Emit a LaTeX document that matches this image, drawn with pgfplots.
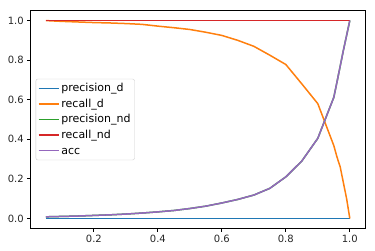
\documentclass[border=0pt]{standalone}
\usepackage{pgfplots}
\pgfplotsset{compat=1.18}
\usepackage{pgfplotstable}
\usepackage{fontspec}
\setmainfont{DejaVu Sans}
\definecolor{c0}{HTML}{1F77B4}
\definecolor{c1}{HTML}{FF7F0E}
\definecolor{c2}{HTML}{2CA02C}
\definecolor{c3}{HTML}{D62728}
\definecolor{c4}{HTML}{9467BD}
\pgfplotstableread{
x pd rd pnd rnd acc
0.05 0 1.000 0.008 1 0.008
0.10 0 0.996 0.010 1 0.010
0.15 0 0.993 0.012 1 0.012
0.20 0 0.990 0.015 1 0.015
0.25 0 0.988 0.018 1 0.018
0.30 0 0.985 0.022 1 0.022
0.35 0 0.981 0.027 1 0.027
0.40 0 0.972 0.033 1 0.033
0.45 0 0.964 0.040 1 0.040
0.50 0 0.955 0.050 1 0.050
0.55 0 0.941 0.062 1 0.062
0.60 0 0.925 0.078 1 0.078
0.65 0 0.900 0.096 1 0.096
0.70 0 0.870 0.118 1 0.118
0.75 0 0.825 0.152 1 0.152
0.80 0 0.778 0.210 1 0.210
0.85 0 0.680 0.290 1 0.290
0.90 0 0.580 0.405 1 0.405
0.95 0 0.368 0.612 1 0.612
0.96 0 0.310 0.690 1 0.690
0.97 0 0.260 0.770 1 0.770
0.98 0 0.180 0.850 1 0.850
0.99 0 0.100 0.925 1 0.925
1.00 0 0.000 1.000 1 1.000
}\datatable
\begin{document}
\begin{tikzpicture}
\begin{axis}[
  scale only axis,
  width=334.3pt, height=217.6pt,
  xmin=0.0025, xmax=1.0475,
  ymin=-0.05, ymax=1.05,
  xtick={0.2,0.4,0.6,0.8,1.0},
  ytick={0,0.2,0.4,0.6,0.8,1.0},
  xticklabel style={/pgf/number format/.cd,fixed,fixed zerofill,precision=1},
  yticklabel style={/pgf/number format/.cd,fixed,fixed zerofill,precision=1},
  /pgf/number format/assume math mode=true,
  tick label style={font=\fontsize{10}{12}\selectfont, text=black!85},
  tick align=outside,
  xtick pos=bottom, ytick pos=left,
  major tick length=3.5pt,
  tick style={black, line width=0.8pt},
  axis line style={black, line width=0.8pt},
  every axis plot/.append style={line width=1.5pt},
  legend cell align=left,
  legend image code/.code={\draw[#1] (0pt,0pt) -- (20pt,0pt);},
  legend style={at={(axis description cs:0,0.5)}, xshift=5pt, anchor=west,
    draw=black!20, rounded corners=2pt, fill=white, fill opacity=0.8, text opacity=1,
    font=\fontsize{11}{13}\selectfont, row sep=1.7pt, inner xsep=2pt, inner ysep=2.5pt,
    /tikz/every even column/.append style={column sep=4.6pt}},
]
\addplot[c0] table[x=x,y=pd] {\datatable};
\addlegendentry{precision\_d}
\addplot[c1] table[x=x,y=rd] {\datatable};
\addlegendentry{recall\_d}
\addplot[c2] table[x=x,y=pnd] {\datatable};
\addlegendentry{precision\_nd}
\addplot[c3] table[x=x,y=rnd] {\datatable};
\addlegendentry{recall\_nd}
\addplot[c4] table[x=x,y=acc] {\datatable};
\addlegendentry{acc\vphantom{d}}
\end{axis}
\pgfresetboundingbox
\path[use as bounding box] ([shift={(-30.7pt,-22.7pt)}]current axis.south west) rectangle ([shift={(10pt,10.7pt)}]current axis.north east);
\end{tikzpicture}
\end{document}
